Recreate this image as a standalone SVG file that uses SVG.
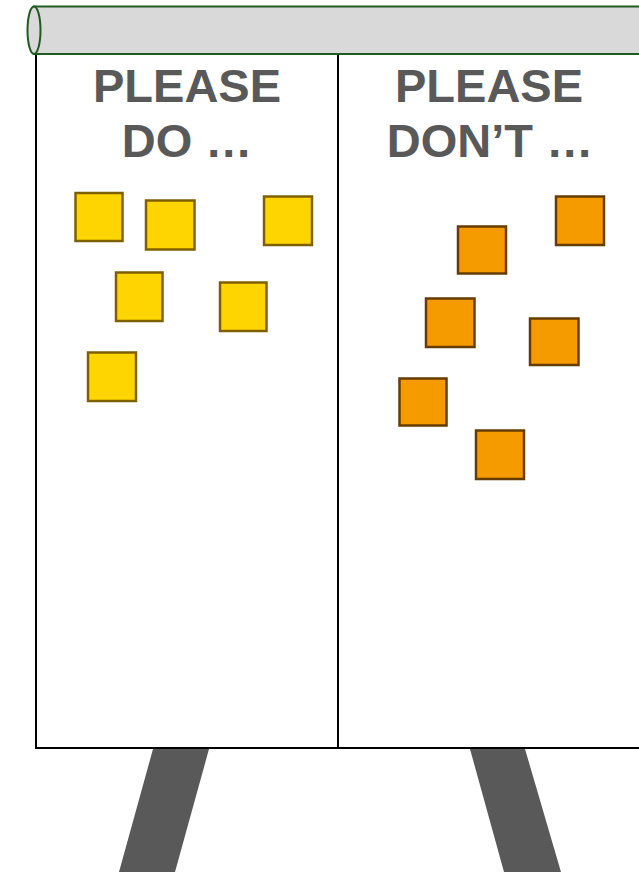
<svg xmlns="http://www.w3.org/2000/svg" width="639" height="872" viewBox="0 0 639 872">
<style>
.t{font-family:"Liberation Sans",Arial,sans-serif;font-weight:bold;font-size:47px;fill:#595959;text-anchor:middle}
.y{fill:#FFD500;stroke:#7F6000;stroke-width:2.5}
.o{fill:#F59B00;stroke:#663C00;stroke-width:2.5}
.leg{fill:#595959}
.ln{stroke:#000;stroke-width:2;fill:none}
</style>
<rect width="639" height="872" fill="#fff"/>
<g id="legs">
<polygon class="leg" points="153,749 209,749 175,872 119,872"/>
<polygon class="leg" points="470,749 525,749 561,872 504,872"/>
</g>
<g id="board">
<path class="ln" d="M36,54 V748 H641 M338,54 V748"/>
</g>
<g id="roll">
<rect x="34" y="6.5" width="610" height="47.5" fill="#D9D9D9" stroke="#1F5A1F" stroke-width="2"/>
<ellipse cx="34" cy="30.3" rx="6.5" ry="23.7" fill="#D9D9D9" stroke="#1F5A1F" stroke-width="2"/>
</g>
<g id="title-do">
<text class="t" x="187" y="101.5">PLEASE</text>
<text class="t" x="187" y="156.5">DO …</text>
</g>
<g id="title-dont">
<text class="t" x="489" y="101.5">PLEASE</text>
<text class="t" x="490" y="156.5">DON’T …</text>
</g>
<g id="notes-do">
<rect class="y" x="75.5" y="193" width="47" height="48"/>
<rect class="y" x="146" y="200.5" width="48.5" height="49"/>
<rect class="y" x="264" y="196.5" width="48" height="48.5"/>
<rect class="y" x="116" y="272.5" width="46.5" height="48.5"/>
<rect class="y" x="220" y="282.5" width="46.5" height="48.5"/>
<rect class="y" x="88" y="352.5" width="48" height="48.5"/>
</g>
<g id="notes-dont">
<rect class="o" x="556" y="196.5" width="48" height="48.5"/>
<rect class="o" x="458" y="226.5" width="48" height="47"/>
<rect class="o" x="426" y="298.5" width="48.5" height="48.5"/>
<rect class="o" x="530" y="318.5" width="48.5" height="46.5"/>
<rect class="o" x="399.5" y="378.5" width="47" height="47"/>
<rect class="o" x="476" y="430.5" width="48" height="48.5"/>
</g>
</svg>
